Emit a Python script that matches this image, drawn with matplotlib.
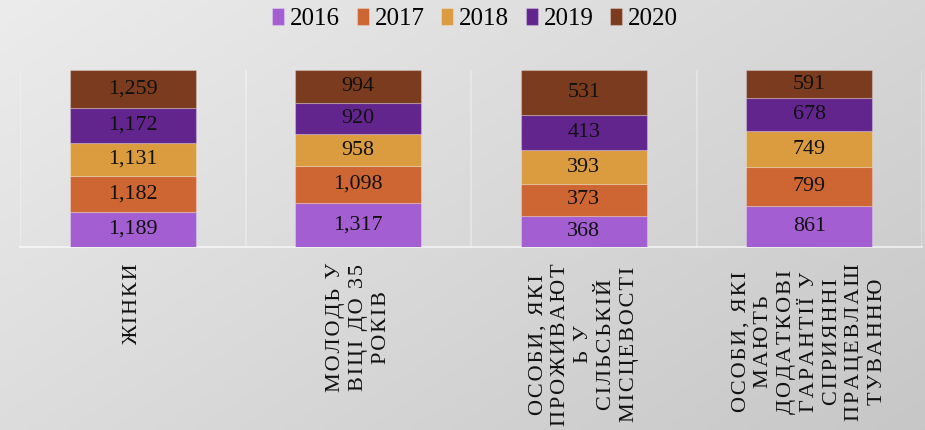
import numpy as np
import matplotlib
matplotlib.use("Agg")
import matplotlib.pyplot as plt

categories = [
    "ЖІНКИ",
    "МОЛОДЬ У\nВІЦІ ДО 35\nРОКІВ",
    "ОСОБИ, ЯКІ\nПРОЖИВАЮТ\nЬ У\nСІЛЬСЬКІЙ\nМІСЦЕВОСТІ",
    "ОСОБИ, ЯКІ\nМАЮТЬ\nДОДАТКОВІ\nГАРАНТІЇ У\nСПРИЯННІ\nПРАЦЕВЛАШ\nТУВАННЮ",
]
years = ["2016", "2017", "2018", "2019", "2020"]
v2016 = [1189, 1317, 368, 861]
v2017 = [1182, 1098, 373, 799]
v2018 = [1131, 958, 393, 749]
v2019 = [1172, 920, 413, 678]
v2020 = [1259, 994, 531, 591]
series = [v2016, v2017, v2018, v2019, v2020]
colors = ["#A35ED1", "#CE6633", "#DB9C40", "#62258D", "#7B3B1E"]

plt.rcParams['font.family'] = ['Liberation Serif', 'DejaVu Serif']

W, H = 925, 430
fig = plt.figure(figsize=(W / 100, H / 100), dpi=100)

# background gradient
bg = fig.add_axes([0, 0, 1, 1], zorder=-10)
xx, yy = np.meshgrid(np.linspace(0, 1, 300), np.linspace(0, 1, 150))
g = 0.925 - 0.085 * xx - 0.06 * yy
bg.imshow(np.dstack([g, g, g]), aspect='auto', extent=[0, 1, 0, 1], origin='upper')
bg.set_axis_off()

left, right = 20 / W, 922 / W
bottom, top = (H - 247) / H, (H - 70) / H
ax = fig.add_axes([left, bottom, right - left, top - bottom])
ax.patch.set_alpha(0)

data = np.array(series, dtype=float)
totals = data.sum(axis=0)
pct = data / totals * 100
x = np.arange(len(categories))
bottoms = np.zeros(len(categories))
for i, yr in enumerate(years):
    ax.bar(x, pct[i], bottom=bottoms, width=0.56, color=colors[i], label=yr,
           edgecolor=(1, 1, 1, 0.25), linewidth=0.8, zorder=3)
    for j in range(len(categories)):
        ax.text(x[j], bottoms[j] + pct[i][j] / 2, f"{int(data[i][j]):,}",
                ha='center', va='center', fontsize=15.8, color='#111111', zorder=4)
    bottoms += pct[i]

ax.set_xlim(-0.5, len(categories) - 0.5)
ax.set_ylim(0, 100)
for b in np.arange(-0.5, len(categories), 1.0):
    ax.axvline(b, color=(1, 1, 1, 0.35), lw=1.2, zorder=1)
for s in ['top', 'left', 'right']:
    ax.spines[s].set_visible(False)
ax.spines['bottom'].set_color((1, 1, 1, 0.6))
ax.spines['bottom'].set_linewidth(1.5)
ax.set_yticks([])
ax.set_xticks([])


def spaced(s):
    sep = "\u200a"
    return "\n".join(sep.join(line) for line in s.split("\n"))


# category labels
for j, lab in enumerate(categories):
    xd = ax.transData.transform((x[j], 0))[0]
    fx = xd / W
    fig.text(fx, 1 - 263 / H, spaced(lab), rotation=90, ha='center', va='top',
             multialignment='center', fontsize=16, linespacing=1.27, color='#111111')

leg = fig.legend(loc='center', bbox_to_anchor=(475 / W, 1 - 19 / H), ncol=5, frameon=False,
                 fontsize=18, handlelength=0.48, handleheight=0.7, handletextpad=0.24,
                 columnspacing=0.66, borderpad=0)

fig.savefig("out.png", dpi=100)
